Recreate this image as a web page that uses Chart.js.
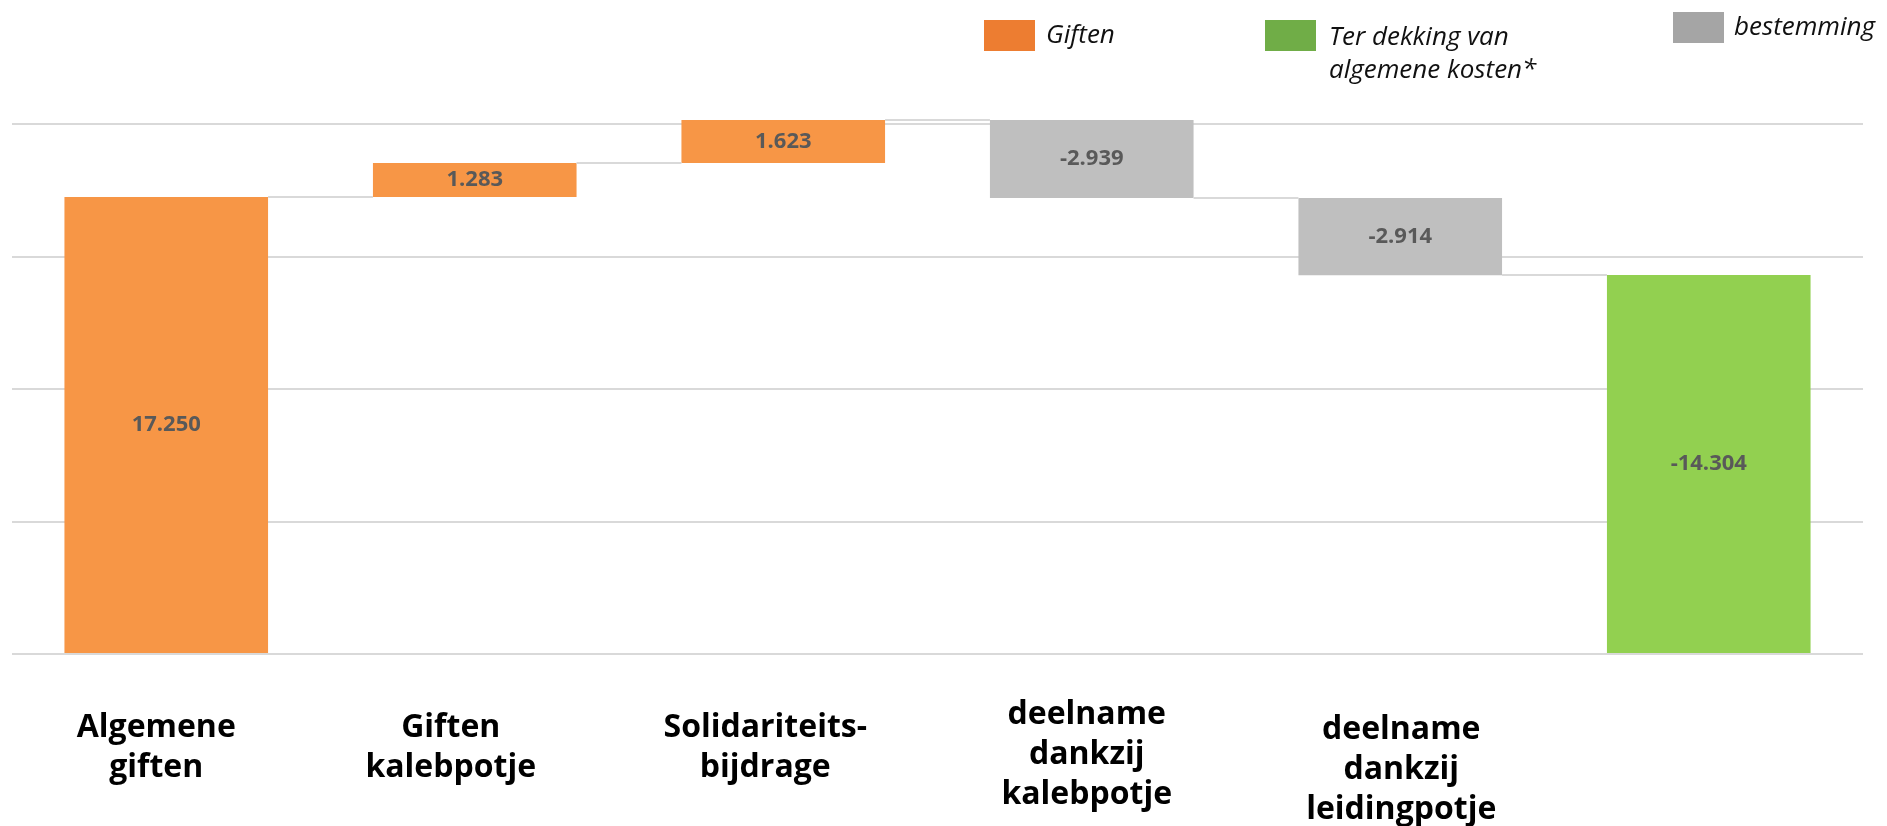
<!DOCTYPE html>
<html>
<head>
<meta charset="utf-8">
<script src="https://cdn.jsdelivr.net/npm/chart.js@4/dist/chart.umd.min.js"></script>
<style>
  html, body { margin: 0; padding: 0; background: #ffffff; }
  #wrap { position: relative; width: 1887px; height: 826px; overflow: hidden; }
  #c { position: absolute; left: 0; top: 0; }
  .lg { position: absolute; font-family: "Open Sans", sans-serif; font-style: italic; font-size: 26px; line-height: 33px; color: #111; white-space: nowrap; }
  .sw { position: absolute; width: 51px; height: 31px; }
</style>
</head>
<body>
<div id="wrap">
  <canvas id="c" width="1887" height="826"></canvas>
  <div class="sw" id="sw0" style="left:984px;top:20px;"></div>
  <div class="lg" id="lg0" style="left:1046px;top:17px;"></div>
  <div class="sw" id="sw1" style="left:1265px;top:20px;"></div>
  <div class="lg" id="lg1" style="left:1329px;top:19px;"></div>
  <div class="sw" id="sw2" style="left:1673px;top:12px;"></div>
  <div class="lg" id="lg2" style="left:1734px;top:9px;"></div>
</div>
<script>
// ---- data ----
const categories = [
  ["Algemene", "giften"],
  ["Giften", "kalebpotje"],
  ["Solidariteits-", "bijdrage"],
  ["deelname", "dankzij", "kalebpotje"],
  ["deelname", "dankzij", "leidingpotje"],
  ""
];
const values = [17250, 1283, 1623, -2939, -2914, -14304];
const barKinds = ["giften", "giften", "giften", "bestemming", "bestemming", "dekking"];
const legendKinds = ["giften", "dekking", "bestemming"];
const legendLabels = ["Giften", "Ter dekking van<br>algemene kosten*", "bestemming"];
const yTicks = [0, 5000, 10000, 15000, 20000];

// ---- styles ----
const barColor = { giften: "#F79646", bestemming: "#BFBFBF", dekking: "#92D050" };
const legendColor = { giften: "#ED7D31", bestemming: "#A5A5A5", dekking: "#70AD47" };
// small per-label nudges of the category text boxes (px), as in the original layout
const labelNudgeX = [-10, -24, -18, -5, 1, 0];
const labelNudgeY = [0, 0, 0, -13, 2, 0];
const labelFirstLineGap = 74;   // from axis line to centre of first text line
const labelLineHeight = 40;

legendKinds.forEach((k, i) => {
  document.getElementById("sw" + i).style.background = legendColor[k];
  document.getElementById("lg" + i).innerHTML = legendLabels[i];
});

// floating spans
const spans = [];
let run = 0;
values.forEach((v, i) => {
  if (i === values.length - 1) { spans.push([0, Math.abs(v)]); }
  else { const s = run; run += v; spans.push([s, run]); }
});

function fmt(v) {
  const s = Math.abs(v).toString().replace(/\B(?=(\d{3})+(?!\d))/g, ".");
  return (v < 0 ? "-" : "") + s;
}

const waterfallPlugin = {
  id: "waterfall",
  afterDatasetsDraw(chart) {
    const ctx = chart.ctx;
    const meta = chart.getDatasetMeta(0);
    const ys = chart.scales.y;
    const xs = chart.scales.x;
    ctx.save();
    // connectors
    ctx.strokeStyle = "#D9D9D9";
    ctx.lineWidth = 2;
    for (let i = 0; i < meta.data.length - 1; i++) {
      const a = meta.data[i], b = meta.data[i + 1];
      const py = Math.round(ys.getPixelForValue(spans[i][1]));
      ctx.beginPath();
      ctx.moveTo(a.x + a.width / 2, py);
      ctx.lineTo(b.x - b.width / 2, py);
      ctx.stroke();
    }
    // value labels
    ctx.fillStyle = "#595959";
    ctx.font = "bold 22px 'Open Sans', sans-serif";
    ctx.textAlign = "center";
    ctx.textBaseline = "middle";
    meta.data.forEach((el, i) => {
      ctx.fillText(fmt(values[i]), el.x, (el.y + el.base) / 2);
    });
    // category labels
    ctx.fillStyle = "#000000";
    ctx.font = "bold 32px 'Open Sans', sans-serif";
    const base = chart.chartArea.bottom;
    categories.forEach((lab, i) => {
      const lines = Array.isArray(lab) ? lab : [lab];
      const cx = xs.getPixelForValue(i) + labelNudgeX[i];
      lines.forEach((t, j) => {
        ctx.fillText(t, cx, base + labelFirstLineGap + labelNudgeY[i] + j * labelLineHeight);
      });
    });
    ctx.restore();
  }
};

new Chart(document.getElementById("c"), {
  type: "bar",
  data: {
    labels: categories,
    datasets: [{
      data: spans,
      backgroundColor: barKinds.map(k => barColor[k]),
      borderWidth: 0,
      barPercentage: 0.66,
      categoryPercentage: 1.0
    }]
  },
  options: {
    responsive: false,
    animation: false,
    events: [],
    layout: { padding: { left: 12, right: 24, top: 111, bottom: 172 } },
    plugins: { legend: { display: false }, tooltip: { enabled: false } },
    scales: {
      x: {
        grid: { display: false, drawTicks: false },
        border: { display: false },
        ticks: { display: false }
      },
      y: {
        min: 0,
        max: 20500,
        grid: { color: "#D9D9D9", lineWidth: 2, drawTicks: false },
        border: { display: false },
        afterBuildTicks(scale) { scale.ticks = yTicks.map(v => ({ value: v })); },
        ticks: { display: false }
      }
    }
  },
  plugins: [waterfallPlugin]
});
</script>
</body>
</html>
